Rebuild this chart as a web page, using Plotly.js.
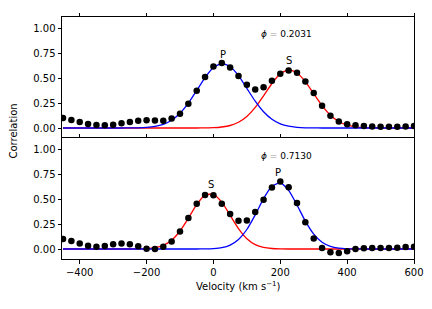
<!DOCTYPE html>
<html>
<head>
<meta charset="utf-8">
<script src="https://cdn.plot.ly/plotly-3.0.1.min.js"></script>
<style>html,body{margin:0;padding:0;background:#fff;}#chart{width:432px;height:309px;}</style>
</head>
<body>
<div id="chart"></div>
<script>
// Velocity grid (km/s)
const velocity = [-450,-425,-400,-375,-350,-325,-300,-275,-250,-225,-200,-175,-150,-125,-100,-75,-50,-25,0,25,50,75,100,125,150,175,200,225,250,275,300,325,350,375,400,425,450,475,500,525,550,575,600];

// Phase 0.2031 (top panel)
const corrTop = [0.10,0.08,0.06,0.04,0.03,0.027,0.033,0.047,0.06,0.073,0.077,0.075,0.073,0.095,0.143,0.243,0.373,0.51,0.616,0.65,0.605,0.52,0.432,0.385,0.407,0.473,0.543,0.575,0.552,0.466,0.35,0.223,0.123,0.066,0.037,0.027,0.02,0.015,0.013,0.013,0.013,0.015,0.02];
const fitPTop = [0,0,0,0,0,0,0,0,0.001,0.002,0.006,0.016,0.037,0.078,0.148,0.249,0.375,0.504,0.604,0.645,0.615,0.523,0.396,0.268,0.162,0.087,0.042,0.018,0.007,0.002,0.001,0,0,0,0,0,0,0,0,0,0,0,0];
const fitSTop = [0,0,0,0,0,0,0,0,0,0,0,0,0,0,0,0,0,0.001,0.003,0.010,0.025,0.058,0.116,0.206,0.322,0.445,0.542,0.583,0.553,0.463,0.342,0.223,0.128,0.065,0.029,0.012,0.004,0.001,0,0,0,0,0];

// Phase 0.7130 (bottom panel)
const corrBot = [0.10,0.08,0.056,0.033,0.023,0.03,0.047,0.056,0.047,0.027,0.003,0.0,0.023,0.075,0.176,0.309,0.452,0.541,0.538,0.452,0.349,0.282,0.286,0.369,0.492,0.614,0.674,0.617,0.459,0.268,0.104,0.01,-0.033,-0.04,-0.023,0.0,0.007,0.01,0.01,0.01,0.013,0.02,0.023];
const fitPBot = [0,0,0,0,0,0,0,0,0,0,0,0,0,0,0,0,0,0.001,0.004,0.013,0.039,0.095,0.195,0.341,0.504,0.627,0.660,0.586,0.440,0.279,0.149,0.067,0.026,0.008,0.002,0.001,0,0,0,0,0,0,0];
const fitSBot = [0,0,0,0,0,0,0,0,0,0.001,0.004,0.013,0.037,0.088,0.180,0.309,0.444,0.538,0.547,0.468,0.337,0.204,0.103,0.044,0.016,0.005,0.001,0,0,0,0,0,0,0,0,0,0,0,0,0,0,0,0];

const phases = ["0.2031", "0.7130"];
const xTicks = [-400,-200,0,200,400,600];
const yTicks = [0,0.25,0.5,0.75,1.0];

const font = {family: "DejaVu Sans, sans-serif", size: 10, color: "#000"};
const lineW = 1.3;

function fitTrace(y, color, xa, ya) {
  return {x: velocity, y: y, type: "scatter", mode: "lines", line: {color: color, width: lineW, shape: "spline", smoothing: 0.6}, xaxis: xa, yaxis: ya, hoverinfo: "skip"};
}
function dotTrace(y, xa, ya) {
  return {x: velocity, y: y, type: "scatter", mode: "markers", marker: {color: "#000", size: 6.5}, xaxis: xa, yaxis: ya};
}

const traces = [
  fitTrace(fitSTop, "#ff0000", "x", "y"),
  fitTrace(fitPTop, "#0000ff", "x", "y"),
  dotTrace(corrTop, "x", "y"),
  fitTrace(fitSBot, "#ff0000", "x2", "y2"),
  fitTrace(fitPBot, "#0000ff", "x2", "y2"),
  dotTrace(corrBot, "x2", "y2")
];

const xCommon = {range: [-453, 600], tickvals: xTicks, ticks: "outside", ticklen: 3.5, tickwidth: 1, tickcolor: "#000",
  showline: true, linecolor: "#000", linewidth: 1, showgrid: false, zeroline: false, tickfont: font};
const yCommon = {range: [-0.1, 1.11], tickvals: yTicks, tickformat: ".2f", ticks: "outside", ticklen: 3.5, tickwidth: 1, tickcolor: "#000",
  showline: true, linecolor: "#000", linewidth: 1, mirror: true, showgrid: false, zeroline: false, tickfont: font};

function lab(text, x, y, xr, yr, size) {
  return {text: text, x: x, y: y, xref: xr, yref: yr, showarrow: false, font: {family: font.family, size: size || 10, color: "#000"}, xanchor: "center", yanchor: "middle"};
}

const layout = {
  width: 432, height: 309,
  margin: {l: 62, r: 18, t: 17, b: 50},
  paper_bgcolor: "#fff", plot_bgcolor: "#fff",
  showlegend: false,
  font: font,
  xaxis: Object.assign({}, xCommon, {anchor: "y", side: "top", showticklabels: false, mirror: false}),
  yaxis: Object.assign({}, yCommon, {domain: [0.5, 1], anchor: "x"}),
  xaxis2: Object.assign({}, xCommon, {anchor: "y2", side: "bottom", mirror: "ticks"}),
  yaxis2: Object.assign({}, yCommon, {domain: [0, 0.5], anchor: "x2"}),
  annotations: [
    lab("P", 28, 0.74, "x", "y"),
    lab("S", 226, 0.673, "x", "y"),
    lab("S", -8, 0.648, "x2", "y2"),
    lab("P", 193, 0.764, "x2", "y2"),
    lab("<i>ϕ</i> <span style='color:#999'>=</span> " + phases[0], 220, 0.94, "x", "y", 9),
    lab("<i>ϕ</i> <span style='color:#999'>=</span> " + phases[1], 220, 0.933, "x2", "y2", 9),
    Object.assign(lab("Correlation", -0.137, 0.53, "paper", "paper"), {textangle: -90}),
    lab("Velocity (km s<sup>−1</sup>)", 0.5, -0.112, "paper", "paper")
  ]
};

Plotly.newPlot("chart", traces, layout, {displayModeBar: false, staticPlot: true});
</script>
</body>
</html>
